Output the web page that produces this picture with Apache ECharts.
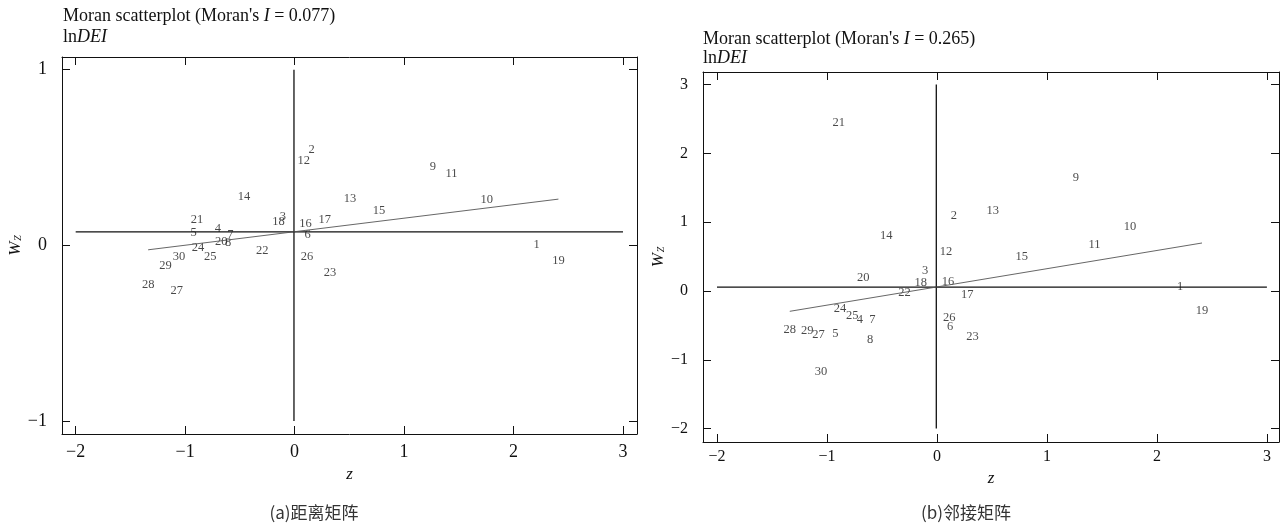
<!DOCTYPE html>
<html>
<head>
<meta charset="utf-8">
<script src="https://cdn.jsdelivr.net/npm/echarts@6/dist/echarts.min.js"></script>
<style>
  html, body { margin: 0; padding: 0; background: #fff; }
  #chart { width: 1284px; height: 525px; }
</style>
</head>
<body>
<div id="chart"></div>
<script>
// region ids and standardized lnDEI (z), same for both panels
const regionIds = ['1','2','3','4','5','6','7','8','9','10','11','12','13','14','15',
  '16','17','18','19','20','21','22','23','24','25','26','27','28','29','30'];
const zValues = [2.21, 0.155, -0.107, -0.70, -0.923, 0.12, -0.587, -0.607, 1.263, 1.755,
  1.433, 0.083, 0.507, -0.462, 0.772, 0.10, 0.275, -0.147, 2.41, -0.67,
  -0.892, -0.296, 0.323, -0.882, -0.771, 0.113, -1.076, -1.338, -1.18, -1.055];
// spatial lag Wz, (a) distance matrix
const wzDistance = [-0.012, 0.529, 0.145, 0.079, 0.054, 0.045, 0.041, -0.001, 0.43, 0.24,
  0.388, 0.462, 0.246, 0.259, 0.178, 0.107, 0.13, 0.117, -0.102, 0.003,
  0.126, -0.05, -0.174, -0.029, -0.083, -0.083, -0.277, -0.24, -0.134, -0.083];
// spatial lag Wz, (b) adjacency matrix
const wzAdjacency = [0.021, 1.053, 0.25, -0.454, -0.666, -0.556, -0.458, -0.753, 1.601, 0.893,
  0.632, 0.534, 1.126, 0.763, 0.457, 0.084, -0.099, 0.075, -0.328, 0.156,
  2.405, -0.062, -0.705, -0.303, -0.405, -0.425, -0.676, -0.608, -0.618, -1.21];
const moranDistance = 0.077;
const moranAdjacency = 0.265;
const xTicks = [-2, -1, 0, 1, 2, 3];
const yTicksDistance = [-1, 0, 1];
const yTicksAdjacency = [-2, -1, 0, 1, 2, 3];

const serif = 'Liberation Serif';
const fmt = v => String(v).replace('-', '\u2212');
const mean = a => a.reduce((s, v) => s + v, 0) / a.length;

function axisPair(kind, grid, min, max, ticks, opts) {
  const base = {
    type: 'value', gridIndex: grid, min: min, max: max,
    splitLine: { show: false },
    axisLine: { show: true, onZero: false, lineStyle: { color: '#111', width: 1 } },
    axisTick: { show: true, inside: true, length: 8, customValues: ticks,
      lineStyle: { color: '#111', width: 1 } }
  };
  const main = Object.assign({}, base, {
    position: kind === 'x' ? 'bottom' : 'left',
    axisLabel: { show: true, customValues: ticks, formatter: fmt, margin: opts.margin,
      fontFamily: serif, fontSize: opts.fontSize, color: '#111' },
    name: opts.name, nameLocation: 'middle', nameGap: opts.nameGap,
    nameRotate: kind === 'y' ? 90 : 0,
    nameTextStyle: opts.nameStyle
  });
  const mirror = Object.assign({}, base, {
    position: kind === 'x' ? 'top' : 'right',
    axisLabel: { show: false }
  });
  return [main, mirror];
}

const wzName = {
  fontFamily: serif, fontSize: 17, fontStyle: 'italic', color: '#111',
  rich: {
    w: { fontFamily: serif, fontSize: 17, fontStyle: 'italic', color: '#111' },
    s: { fontFamily: serif, fontSize: 10, fontStyle: 'italic', color: '#111', padding: [6, 0, 0, 1] }
  }
};
const zName = { fontFamily: serif, fontSize: 17, fontStyle: 'italic', color: '#111' };

function panelSeries(idx, wz, moran, yTicks) {
  const mz = mean(zValues), mw = mean(wz);
  const zmin = Math.min(...zValues), zmax = Math.max(...zValues);
  const fit = z => mw + moran * (z - mz);
  const lineBase = { type: 'line', xAxisIndex: idx * 2, yAxisIndex: idx * 2,
    showSymbol: false, silent: true, animation: false };
  return [
    Object.assign({}, lineBase, {
      data: [[xTicks[0], mw], [xTicks[xTicks.length - 1], mw]],
      lineStyle: { color: '#111', width: 1.3 }
    }),
    Object.assign({}, lineBase, {
      data: [[mz, yTicks[0]], [mz, yTicks[yTicks.length - 1]]],
      lineStyle: { color: '#111', width: 1.3 }
    }),
    Object.assign({}, lineBase, {
      data: [[zmin, fit(zmin)], [zmax, fit(zmax)]],
      lineStyle: { color: '#555', width: 0.9 }
    }),
    {
      type: 'scatter', xAxisIndex: idx * 2, yAxisIndex: idx * 2, silent: true, animation: false,
      data: zValues.map((z, i) => ({ name: regionIds[i], value: [z, wz[i]] })),
      symbolSize: 1, itemStyle: { color: 'rgba(0,0,0,0)' },
      label: { show: true, position: 'inside', formatter: '{b}', offset: [0, -3],
        fontFamily: serif, fontSize: 12.5, color: '#1a1a1a' }
    }
  ];
}

function titleText(moran) {
  return "Moran scatterplot (Moran's {i|I} = " + moran.toFixed(3) + ")\nln{i|DEI}";
}
function titleStyle(lh) {
  return {
    fontFamily: serif, fontSize: 18, fontWeight: 'normal', color: '#111', lineHeight: lh,
    rich: { i: { fontFamily: serif, fontSize: 18, fontStyle: 'italic', color: '#111', lineHeight: lh } }
  };
}

const chart = echarts.init(document.getElementById('chart'));

const option = {
  animation: false,
  title: [
    { left: 57, top: 4, text: titleText(moranDistance), textStyle: titleStyle(21), padding: [2, 6] },
    { left: 697, top: 28, text: titleText(moranAdjacency), textStyle: titleStyle(19), padding: [2, 6] }
  ],
  grid: [
    { left: 62, top: 57, width: 575, height: 377 },
    { left: 703, top: 72, width: 576, height: 370 }
  ],
  xAxis: [
    ...axisPair('x', 0, -2.125, 3.128, xTicks,
      { margin: 9, fontSize: 18, name: 'z', nameGap: 27, nameStyle: zName }),
    ...axisPair('x', 1, -2.127, 3.11, xTicks,
      { margin: 7, fontSize: 16, name: 'z', nameGap: 21, nameStyle: zName })
  ],
  yAxis: [
    ...axisPair('y', 0, -1.074, 1.072, yTicksDistance,
      { margin: 15, fontSize: 18, name: '{w|W}{s|Z}', nameGap: 31, nameStyle: wzName }),
    ...axisPair('y', 1, -2.195, 3.183, yTicksAdjacency,
      { margin: 15, fontSize: 16, name: '{w|W}{s|Z}', nameGap: 28, nameStyle: wzName })
  ],
  graphic: [
    { type: 'text', x: 314, y: 513, style: { text: '(a)距离矩阵', textAlign: 'center',
      textVerticalAlign: 'middle', font: '17px "Noto Sans CJK SC"', fill: '#333' } },
    { type: 'text', x: 966, y: 513, style: { text: '(b)邻接矩阵', textAlign: 'center',
      textVerticalAlign: 'middle', font: '17px "Noto Sans CJK SC"', fill: '#333' } }
  ],
  series: [
    ...panelSeries(0, wzDistance, moranDistance, yTicksDistance),
    ...panelSeries(1, wzAdjacency, moranAdjacency, yTicksAdjacency)
  ]
};

option && chart.setOption(option);
window.addEventListener('resize', chart.resize);
</script>
</body>
</html>
